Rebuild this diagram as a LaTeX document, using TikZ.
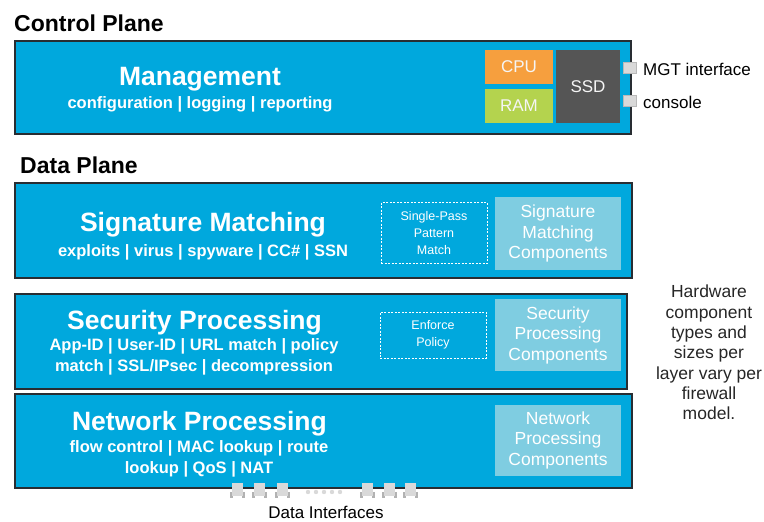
\documentclass[tikz,border=0pt]{standalone}
\usepackage{fontspec}
\setmainfont{Liberation Sans}
\definecolor{planeblue}{RGB}{0,168,221}
\definecolor{complight}{RGB}{127,205,225}
\definecolor{cpuorange}{RGB}{246,159,62}
\definecolor{ramgreen}{RGB}{180,211,78}
\definecolor{ssdgray}{RGB}{85,85,85}
\definecolor{edgegray}{RGB}{40,45,50}

\begin{document}
\begin{tikzpicture}[x=1pt, y=-1pt,
  layer/.style={draw=edgegray, line width=1.6pt, fill=planeblue, inner sep=0, anchor=north west},
  title/.style={anchor=base, text=white, inner sep=0, font=\fontsize{26.5}{30}\selectfont\bfseries},
  detail/.style={anchor=base, text=white, inner sep=0, align=center, font=\fontsize{16.5}{21}\selectfont\bfseries},
  planelabel/.style={anchor=base west, inner sep=0, font=\fontsize{23}{26}\selectfont\bfseries},
  compbox/.style={fill=complight, text=white, align=center, inner sep=0,
    minimum width=126pt, font=\fontsize{17.5}{20.5}\selectfont},
  dashbox/.style={draw=white, dash pattern=on 2pt off 1.5pt, line width=0.8pt, text=white,
    align=center, inner sep=0, minimum width=106pt, font=\fontsize{12.5}{16.5}\selectfont},
  chip/.style={text=white!92!gray, inner sep=0, font=\fontsize{17}{20}\selectfont},
  port/.style={fill=gray!30, draw=gray!55, line width=0.6pt},
  sidelabel/.style={anchor=base west, inner sep=0, font=\fontsize{17}{20}\selectfont}]
  \useasboundingbox (0,0) rectangle (764,522);

  % Control plane
  \node[planelabel] (ctrl) at (14,31.5) {Control Plane};
  \node[layer, minimum width=616pt, minimum height=93pt] (mgmt) at (14,40) {};
  \node[title] (mgmttitle) at (200,85) {Management};
  \node[detail] (mgmtdetail) at (200,108) {configuration | logging | reporting};

  % Chips
  \node[chip, fill=cpuorange, minimum width=68pt, minimum height=34pt] (cpu) at (519,67) {CPU};
  \node[chip, fill=ramgreen, minimum width=68pt, minimum height=34pt] (ram) at (519,106) {RAM};
  \node[chip, fill=ssdgray, minimum width=64pt, minimum height=73pt] (ssd) at (588,86.5) {SSD};

  % Management ports
  \foreach \py/\lbl/\nm in {62/MGT interface/mgt, 95/console/con}
  {
    \draw[port] (623,\py) rectangle (636,\py+11);
    \node[sidelabel] (\nm) at (643,\py+13) {\lbl};
  }

  % Data plane
  \node[planelabel] (data) at (20,173) {Data Plane};

  \node[layer, minimum width=617pt, minimum height=95pt] (sig) at (14,182) {};
  \node[title] (sigtitle) at (203,231.5) {Signature Matching};
  \node[detail] (sigdetail) at (203,256) {exploits | virus | spyware | CC\# | SSN};
  \node[dashbox, minimum height=61pt, font=\fontsize{12.5}{17}\selectfont] (spm) at (434,233) {Single-Pass\\Pattern\\Match};
  \node[compbox, minimum height=73pt] (sigcomp) at (558,233.5) {Signature\\Matching\\Components};

  \node[layer, minimum width=612pt, minimum height=95pt] (sec) at (14,293) {};
  \node[title] (sectitle) at (194.5,329) {Security Processing};
  \node[detail] (secdetail) at (194,371) {App-ID | User-ID | URL match | policy\\match | SSL/IPsec | decompression};
  \node[dashbox, minimum height=46pt] (enf) at (433,335) {Enforce\\Policy};
  \node[compbox, minimum height=72pt] (seccomp) at (558,335) {Security\\Processing\\Components};

  \node[layer, minimum width=617pt, minimum height=94pt] (net) at (14,393) {};
  \node[title] (nettitle) at (199.5,430) {Network Processing};
  \node[detail] (netdetail) at (199,473) {flow control | MAC lookup | route\\lookup | QoS | NAT};
  \node[compbox, minimum height=71pt] (netcomp) at (558,440) {Network\\Processing\\Components};

  % Data interfaces
  \foreach \px in {230,252,275,360,382,403}
  {
    \fill[gray!60] (\px,492) rectangle (\px+3,498);
    \fill[gray!60] (\px+12,492) rectangle (\px+15,498);
    \fill[gray!30] (\px+2,483) rectangle (\px+13,496);
  }
  \foreach \dx in {308,316,324,332,340}
    \fill[gray!30] (\dx,492) circle (2.2pt);
  \node[anchor=base, inner sep=0, font=\fontsize{17}{20}\selectfont] (ifaces) at (326,518) {Data Interfaces};

  % Side note
  \node[align=center, inner sep=0, text=black!85, font=\fontsize{17.5}{20.3}\selectfont] (note) at (709,352.5)
    {Hardware\\component\\types and\\sizes per\\layer vary per\\firewall\\model.};
\end{tikzpicture}
\end{document}
